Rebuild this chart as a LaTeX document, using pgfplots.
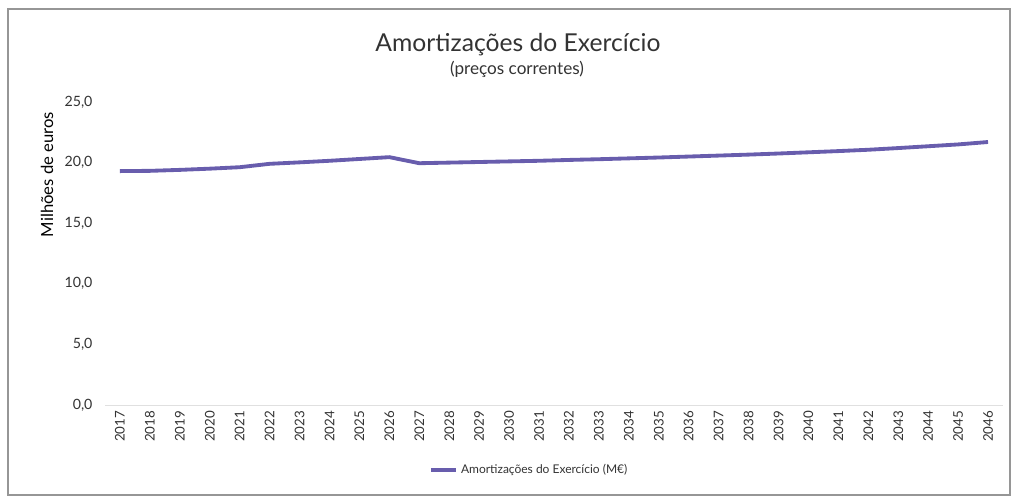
\documentclass[border=0pt]{standalone}
\usepackage{pgfplots}
\pgfplotsset{compat=1.18}
\usepackage{fontspec}
\setmainfont{Lato}
\definecolor{linecol}{RGB}{104,93,173}
\definecolor{framecol}{RGB}{150,150,150}
\begin{document}
\begin{tikzpicture}
% canvas: 1017 x 497 px at 0.6pt per px
\path[use as bounding box] (0pt,0pt) rectangle (610.2pt,298.2pt);
\draw[framecol, line width=0.9pt] (4.8pt,1.2pt) rectangle (606pt,292.8pt);
\node[font=\fontsize{14.8}{17}\selectfont, text=black!80] at (310.8pt,271.2pt) {Amortizações do Exercício};
\node[font=\fontsize{10.3}{12}\selectfont, text=black!80] at (310.2pt,256.8pt) {(preços correntes)};
\begin{axis}[
  at={(63pt,55.2pt)}, anchor=origin,
  scale only axis,
  width=538.8pt, height=181.8pt,
  xmin=2016.5, xmax=2046.5,
  ymin=0, ymax=25,
  axis x line=bottom, axis y line=left,
  axis line style={draw=none},
  xtick={2017,2018,...,2046},
  ytick={0,5,10,15,20,25},
  major tick length=0pt,
  /pgf/number format/assume math mode=true,
  xticklabel style={rotate=90, anchor=east, font=\fontsize{8}{9}\selectfont, text=black!80},
  xticklabel={\pgfmathprintnumber[1000 sep={}]{\tick}},
  yticklabel style={font=\fontsize{8.5}{10}\selectfont, text=black!80, /pgf/number format/fixed, /pgf/number format/fixed zerofill, /pgf/number format/precision=1, /pgf/number format/use comma, xshift=-4pt},
  ylabel={Milhões de euros},
  ylabel style={font=\fontsize{10.5}{12}\selectfont, text=black!80},
  every axis y label/.style={at={(ticklabel cs:0.766)}, rotate=90, anchor=south, xshift=-1pt},
  legend style={at={(0.473,-0.2145)}, anchor=center, draw=none, fill=none, font=\fontsize{7.2}{9}\selectfont, text=black!80, inner sep=0pt},
  legend image code/.code={\draw[#1] (0pt,0pt) -- (15pt,0pt);},
  legend cell align=left,
  clip=false,
]
\draw[black!12, line width=0.6pt] (axis cs:2016.5,0) -- (axis cs:2046.5,0);
\addplot[linecol, line width=2.3pt, line join=round] coordinates {
(2017,19.30) (2018,19.32) (2019,19.40) (2020,19.50) (2021,19.62)
(2022,19.90) (2023,20.02) (2024,20.15) (2025,20.30) (2026,20.45)
(2027,19.95) (2028,20.00) (2029,20.05) (2030,20.10) (2031,20.15)
(2032,20.22) (2033,20.28) (2034,20.35) (2035,20.42) (2036,20.50)
(2037,20.58) (2038,20.66) (2039,20.75) (2040,20.85) (2041,20.95)
(2042,21.06) (2043,21.20) (2044,21.35) (2045,21.50) (2046,21.70)
};
\addlegendentry{Amortizações do Exercício (M€)}
\end{axis}
\end{tikzpicture}
\end{document}
